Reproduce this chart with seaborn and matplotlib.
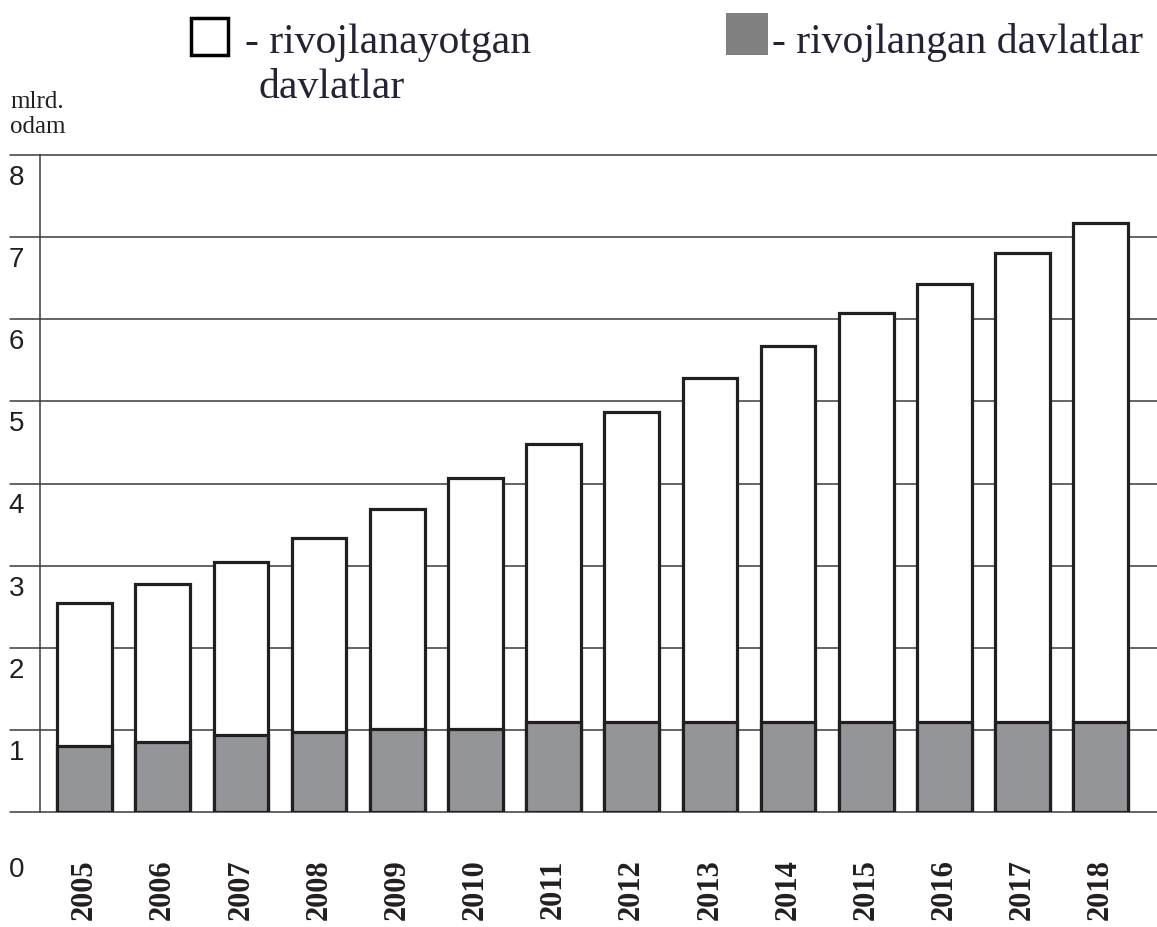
import matplotlib
matplotlib.use("Agg")
import matplotlib.pyplot as plt
import matplotlib.patches as mpatches
import pandas as pd
import seaborn as sns

# values (mlrd. odam)
years = ["2005", "2006", "2007", "2008", "2009", "2010", "2011",
         "2012", "2013", "2014", "2015", "2016", "2017", "2018"]
total = [2.55, 2.78, 3.05, 3.34, 3.69, 4.07, 4.48,
         4.87, 5.29, 5.68, 6.08, 6.43, 6.81, 7.17]
developed = [0.80, 0.85, 0.94, 0.98, 1.01, 1.01, 1.10,
             1.10, 1.10, 1.10, 1.10, 1.10, 1.10, 1.10]
ytick_vals = [0, 1, 2, 3, 4, 5, 6, 7, 8]

df = pd.DataFrame({"year": years, "total": total, "developed": developed})

sns.set_theme(style="white")
plt.rcParams["font.family"] = ["Liberation Serif", "DejaVu Serif"]

fig = plt.figure(figsize=(11.57, 9.27), dpi=100)
ax = fig.add_axes([40 / 1157, 115 / 927, 1117 / 1157, 657 / 927])

edge = "#231f20"
gray = "#939598"

sns.barplot(data=df, x="year", y="total", color="white", edgecolor=edge,
            linewidth=2.3, width=0.70, saturation=1, ax=ax, zorder=3)
sns.barplot(data=df, x="year", y="developed", color=gray, edgecolor=edge,
            linewidth=2.3, width=0.70, saturation=1, ax=ax, zorder=4)

ax.set_ylim(0, 8)
ax.set_xlim(-0.57, 13.72)

# horizontal lines, sticking out left of the axis line
for v in ytick_vals:
    ax.axhline(v, xmin=-0.027, xmax=1, color="#3a3a3a", lw=1.1,
               clip_on=False, zorder=1)

for s in ["top", "right", "bottom"]:
    ax.spines[s].set_visible(False)
ax.spines["left"].set_color("#3a3a3a")
ax.spines["left"].set_linewidth(1.1)

ax.set_yticks([])
ax.set_xlabel("")
ax.set_ylabel("")

# y labels sit below their lines, 0 far below
ytr = ax.get_yaxis_transform()
for v in ytick_vals:
    ypos = v - 0.28 if v > 0 else -0.71
    ax.text(-0.028, ypos, str(v), transform=ytr, ha="left", va="center",
            fontsize=20, family="Liberation Sans", color="#231f20",
            clip_on=False)

ax.tick_params(axis="x", length=0, pad=34)
ax.set_xticks(range(len(years)))
ax.set_xticklabels(years, rotation=90, fontsize=22, fontweight="bold",
                   color="#231f20", va="top")

fig.text(10 / 1157, 1 - 133 / 927, "mlrd.\nodam", fontsize=18,
         color="#231f20", ha="left", va="baseline", linespacing=1.2)

# legend drawn by hand
fig.patches.append(mpatches.Rectangle((191 / 1157, 1 - 55 / 927), 37 / 1157, 37 / 927,
                                      transform=fig.transFigure, facecolor="white",
                                      edgecolor="black", lw=2.5))
fig.patches.append(mpatches.Rectangle((726 / 1157, 1 - 55 / 927), 42 / 1157, 42 / 927,
                                      transform=fig.transFigure, facecolor="#808080",
                                      edgecolor="none"))
fig.text(245 / 1157, 1 - 53 / 927, "- rivojlanayotgan", fontsize=30,
         color="#252236", ha="left", va="baseline")
fig.text(258 / 1157, 1 - 98 / 927, "davlatlar", fontsize=30,
         color="#252236", ha="left", va="baseline")
fig.text(772 / 1157, 1 - 53 / 927, "- rivojlangan davlatlar", fontsize=30,
         color="#252236", ha="left", va="baseline")

fig.savefig("out.png", dpi=100)
